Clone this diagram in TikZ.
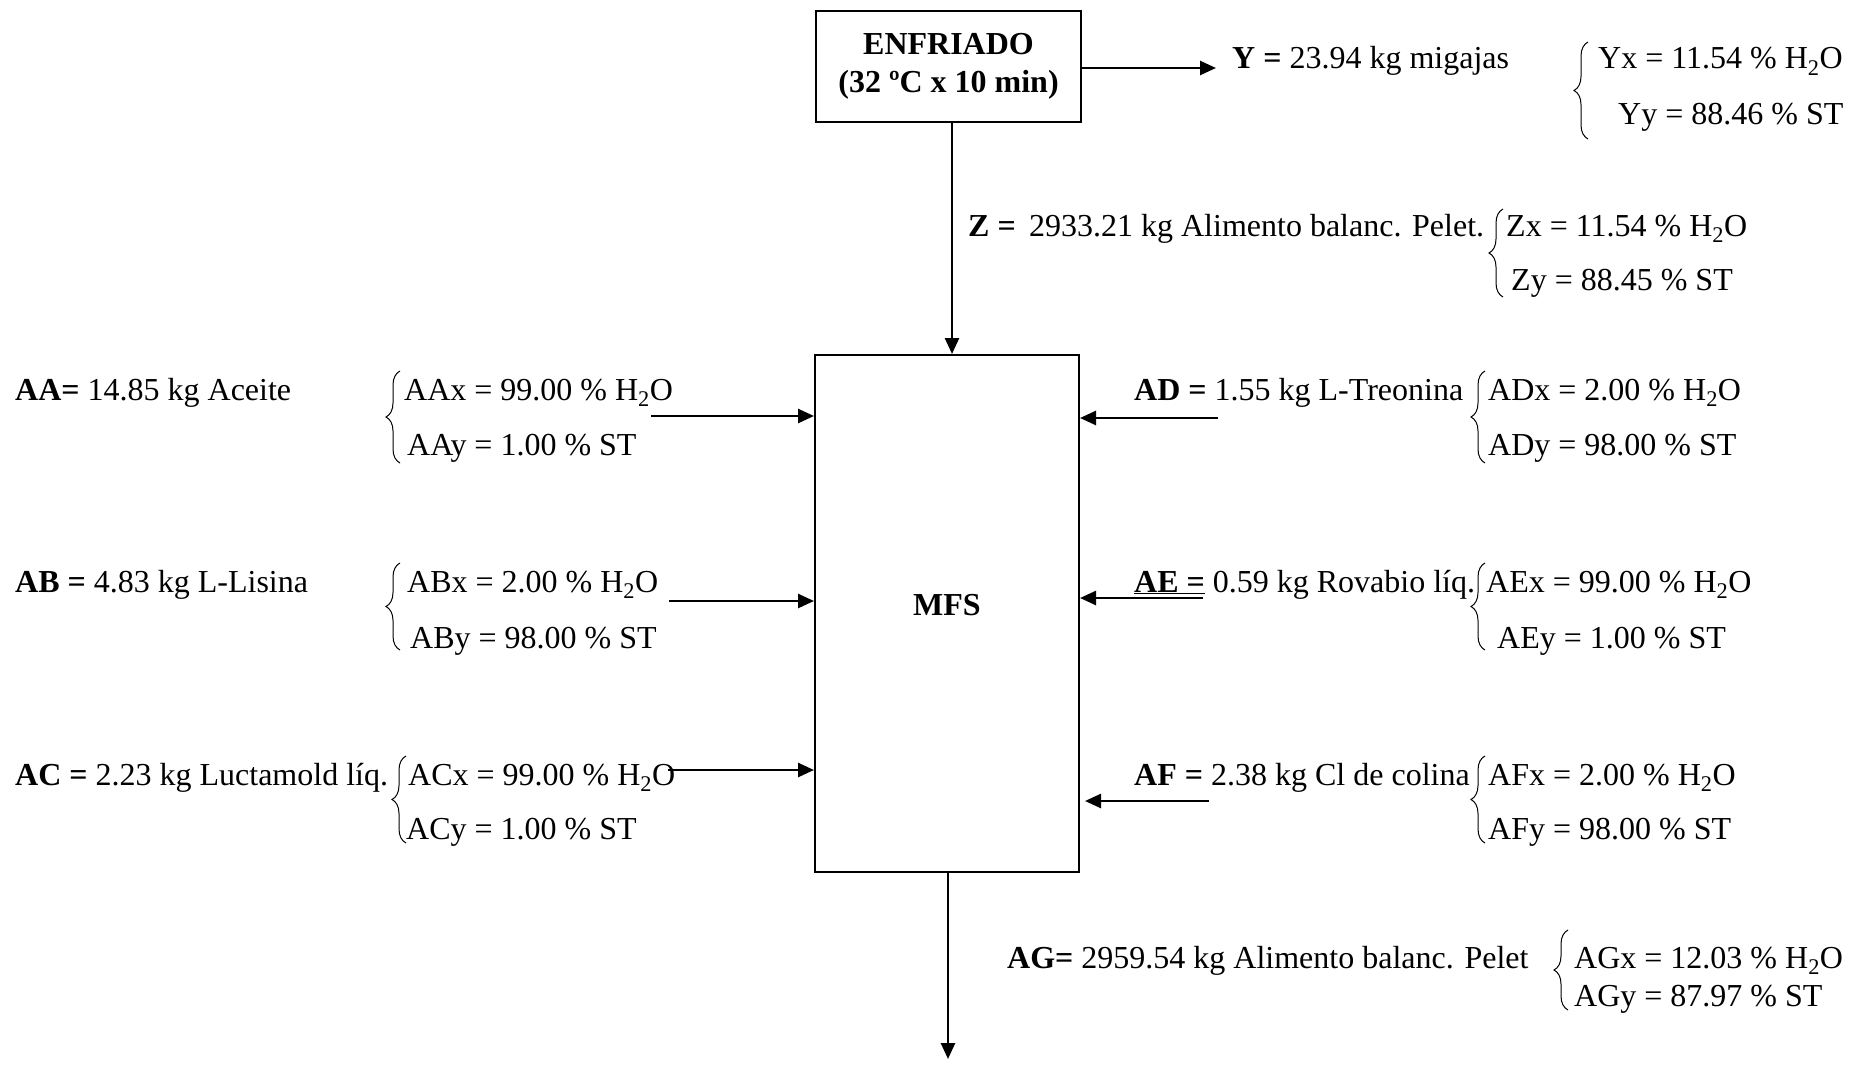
\documentclass[tikz,border=0pt]{standalone}
\usepackage{fontspec}
\setmainfont{Liberation Serif}
\usetikzlibrary{decorations.pathreplacing,arrows.meta}
\begin{document}
\begin{tikzpicture}[x=1pt,y=-1pt,
  txt/.style={anchor=base west,inner sep=0pt,font=\fontsize{32}{38}\selectfont},
  box/.style={draw,line width=2pt},
  arr/.style={line width=2.6pt,-{Triangle[length=16pt,width=14pt]}},
  brc/.style={decorate,decoration={brace,amplitude=14pt},line width=1pt}]
\useasboundingbox (0,0) rectangle (1863,1065);
% boxes
\node[box,minimum width=265pt,minimum height=111pt,inner sep=0pt,
  font=\fontsize{32}{38}\selectfont\bfseries,align=center] (enf) at (948.5,66.5) {ENFRIADO\\(32 ºC x 10 min)};
\node[box,minimum width=264pt,minimum height=517pt] (mfs) at (947,613.5) {};
\node[font=\fontsize{32}{38}\selectfont\bfseries] (mfsl) at (947,605) {MFS};
% free ends
\coordinate (yE) at (1216,68);
\coordinate (agE) at (948,1059);
\coordinate (aaS) at (651,416);
\coordinate (abS) at (669,601);
\coordinate (acS) at (668,770);
\coordinate (adS) at (1218,418);
\coordinate (aeS) at (1203,598);
\coordinate (afS) at (1209,801);
% connectors
\draw[arr] (enf.east |- yE) -- (yE);
\draw[arr] (enf.south -| 952,0) -- (mfs.north -| 952,0);
\draw[arr] (mfs.south -| agE) -- (agE);
\draw[arr] (aaS) -- (aaS -| mfs.west);
\draw[arr] (abS) -- (abS -| mfs.west);
\draw[arr] (acS) -- (acS -| mfs.west);
\draw[arr] (adS) -- (adS -| mfs.east);
\draw[arr] (aeS) -- (aeS -| mfs.east);
\draw[arr] (afS) -- ([xshift=5pt]afS -| mfs.east);
% Y
\node[txt] (ylab) at (1232,69) {\textbf{Y =} 23.94 kg migajas};
\draw[brc] (1588,139) -- (1588,42);
\node[txt] (yx) at (1598,69) {Yx = 11.54 \% H\textsubscript{2}O};
\node[txt] (yy) at (1618,124) {Yy = 88.46 \% ST};
% Z
\node[txt] (zlab) at (968,236) {\textbf{Z =}\, 2933.21 kg Alimento balanc. Pelet.};
\draw[brc] (1503,297) -- (1503,209);
\node[txt] (zx) at (1506,236) {Zx = 11.54 \% H\textsubscript{2}O};
\node[txt] (zy) at (1511,290) {Zy = 88.45 \% ST};
% AA
\node[txt] (aa) at (15,400) {\textbf{AA=} 14.85 kg Aceite};
\draw[brc] (400,463) -- (400,371);
\node[txt] (aax) at (404,400) {AAx = 99.00 \% H\textsubscript{2}O};
\node[txt] (aay) at (407,455) {AAy = 1.00 \% ST};
% AB
\node[txt] (ab) at (15,592) {\textbf{AB =} 4.83 kg L-Lisina};
\draw[brc] (400,650) -- (400,563);
\node[txt] (abx) at (407,592) {ABx = 2.00 \% H\textsubscript{2}O};
\node[txt] (aby) at (410,648) {ABy = 98.00 \% ST};
% AC
\node[txt] (ac) at (15,785) {\textbf{AC =} 2.23 kg Luctamold líq.};
\draw[brc] (406,843) -- (406,756);
\node[txt] (acx) at (408,785) {ACx = 99.00 \% H\textsubscript{2}O};
\node[txt] (acy) at (406,839) {ACy = 1.00 \% ST};
% AD
\node[txt] (ad) at (1134,400) {\textbf{AD =} 1.55 kg L-Treonina};
\draw[brc] (1485,463) -- (1485,371);
\node[txt] (adx) at (1488,400) {ADx = 2.00 \% H\textsubscript{2}O};
\node[txt] (ady) at (1488,455) {ADy = 98.00 \% ST};
% AE
\node[txt] (ae) at (1134,592) {\underline{\textbf{AE =}} 0.59 kg Rovabio líq.};
\draw[brc] (1485,650) -- (1485,563);
\node[txt] (aex) at (1486,592) {AEx = 99.00 \% H\textsubscript{2}O};
\node[txt] (aey) at (1497,648) {AEy = 1.00 \% ST};
% AF
\node[txt] (af) at (1134,785) {\textbf{AF =} 2.38 kg Cl de colina};
\draw[brc] (1485,843) -- (1485,756);
\node[txt] (afx) at (1488,785) {AFx = 2.00 \% H\textsubscript{2}O};
\node[txt] (afy) at (1488,839) {AFy = 98.00 \% ST};
% AG
\node[txt] (ag) at (1007,968) {\textbf{AG=} 2959.54 kg Alimento balanc. Pelet};
\draw[brc] (1568,1010) -- (1568,930);
\node[txt] (agx) at (1574,968) {AGx = 12.03 \% H\textsubscript{2}O};
\node[txt] (agy) at (1574,1006) {AGy = 87.97 \% ST};
\end{tikzpicture}
\end{document}
